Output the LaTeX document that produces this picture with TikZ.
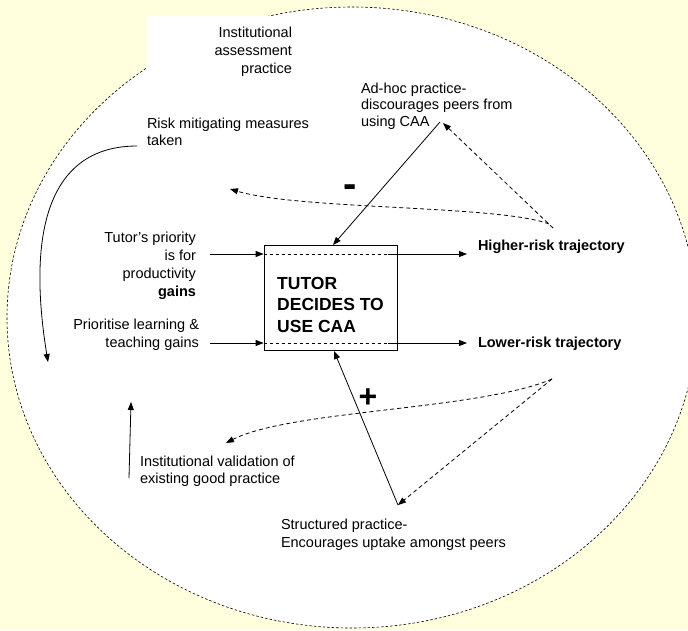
\documentclass[tikz,border=0pt]{standalone}
\usepackage{fontspec}
\setmainfont{Liberation Sans}
\usetikzlibrary{arrows.meta}
\definecolor{bgyellow}{RGB}{255,255,221}
\begin{document}
\begin{tikzpicture}[x=1pt,y=-1pt,
  lbl/.style={inner sep=0pt, outer sep=0pt, font=\fontsize{14.5}{17.5}\selectfont},
  boldlbl/.style={inner sep=0pt, outer sep=0pt, font=\fontsize{14.5}{17.5}\selectfont\bfseries},
  conn/.style={line width=0.8pt, -{Triangle[length=8pt,width=6pt]}},
  dconn/.style={conn, dash pattern=on 4pt off 3pt},
  dplain/.style={line width=0.8pt, dash pattern=on 3pt off 3pt}]
\useasboundingbox (0,0) rectangle (688,630);
\clip (0,0) rectangle (688,630);
\fill[bgyellow] (0,0) rectangle (688,630);
% boundary
\draw[fill=white, line width=0.6pt, dash pattern=on 2.5pt off 2pt] (352,317.5) ellipse [x radius=345pt, y radius=310.5pt];
\fill[white] (147,16) rectangle (330,92);

% texts (base anchor = baseline of last line)
\node[lbl, font=\fontsize{14.5}{18}\selectfont, align=right, anchor=base east] (inst) at (292,73) {Institutional\\assessment\\practice};
\node[lbl, font=\fontsize{14.5}{17}\selectfont, align=left, anchor=base west] (risk) at (147,145) {Risk mitigating measures\\taken};
\node[lbl, font=\fontsize{14.5}{16.5}\selectfont, align=left, anchor=base west] (adhoc) at (361,126) {Ad-hoc practice-\\discourages peers from\\using CAA};
\node[lbl, font=\fontsize{14.5}{17.7}\selectfont, align=right, anchor=base east] (prio) at (196,296) {Tutor’s priority\\is for\\productivity\\\textbf{gains}};
\node[lbl, font=\fontsize{14.5}{18.5}\selectfont, align=right, anchor=base east] (learn) at (199,347.5) {Prioritise learning \&\\teaching gains};
\node[boldlbl, anchor=base west] (high) at (478,250) {Higher-risk trajectory};
\node[boldlbl, anchor=base west] (low) at (478,347) {Lower-risk trajectory};
\node[lbl, font=\fontsize{14.5}{17}\selectfont, align=left, anchor=base west] (val) at (140,483) {Institutional validation of\\existing good practice};
\node[lbl, font=\fontsize{14.5}{18}\selectfont, align=left, anchor=base west] (struct) at (281,547) {Structured practice-\\Encourages uptake amongst peers};
\node[inner sep=0pt, font=\fontsize{40}{40}\selectfont\bfseries, anchor=base] (minus) at (350,197) {-};
\node[inner sep=0pt, font=\fontsize{32}{32}\selectfont\bfseries, anchor=base] (plus) at (368,407) {+};

% central box
\node[draw, line width=0.8pt, minimum width=133pt, minimum height=105pt, inner sep=0pt] (box) at (330.5,297.5) {};
\node[inner sep=0pt, font=\fontsize{17.5}{21.5}\selectfont\bfseries, align=left, anchor=base west] (boxtext) at (277,332) {TUTOR\\DECIDES TO\\USE CAA};

% coordinates
\coordinate (in1) at (210,254);
\coordinate (in2) at (210,343);
\coordinate (mid1) at (388,254);
\coordinate (mid2) at (388,343);
\coordinate (out1) at (467,254);
\coordinate (out2) at (467,343);
\coordinate (riskend) at (137,146);
\coordinate (riskarr) at (48,362);
\coordinate (adhocpt) at (440,122);
\coordinate (adhoctip) at (443,123);
\coordinate (boxtop) at (333,245);
\coordinate (boxbot) at (334,351);
\coordinate (hj) at (553,228);
\coordinate (hc) at (549,224);
\coordinate (risktip) at (230,189);
\coordinate (lj) at (552,379);
\coordinate (valtip) at (226,443);
\coordinate (structtip) at (398,505);
\coordinate (valbase) at (129,478);
\coordinate (valarr) at (131,402);

% connectors
\draw[conn] (in1) -- (in1 -| box.west);
\draw[conn] (in2) -- (in2 -| box.west);
\draw[dplain] (in1 -| box.west) -- (mid1);
\draw[dplain] (in2 -| box.west) -- (mid2);
\draw[conn] (mid1) -- (out1);
\draw[conn] (mid2) -- (out2);
\draw[conn] (riskend) .. controls (55,146) and (25,220) .. (riskarr);
\draw[conn] (adhocpt) -- (boxtop);
\draw[dconn] (hj) -- (adhoctip);
\draw[dconn] (hc) .. controls (500,205) and (300,210) .. (risktip);
\draw[dconn] (lj) .. controls (480,410) and (290,410) .. (valtip);
\draw[dconn] (lj) -- (structtip);
\draw[conn] (structtip) -- (boxbot);
\draw[conn] (valbase) -- (valarr);
\end{tikzpicture}
\end{document}
